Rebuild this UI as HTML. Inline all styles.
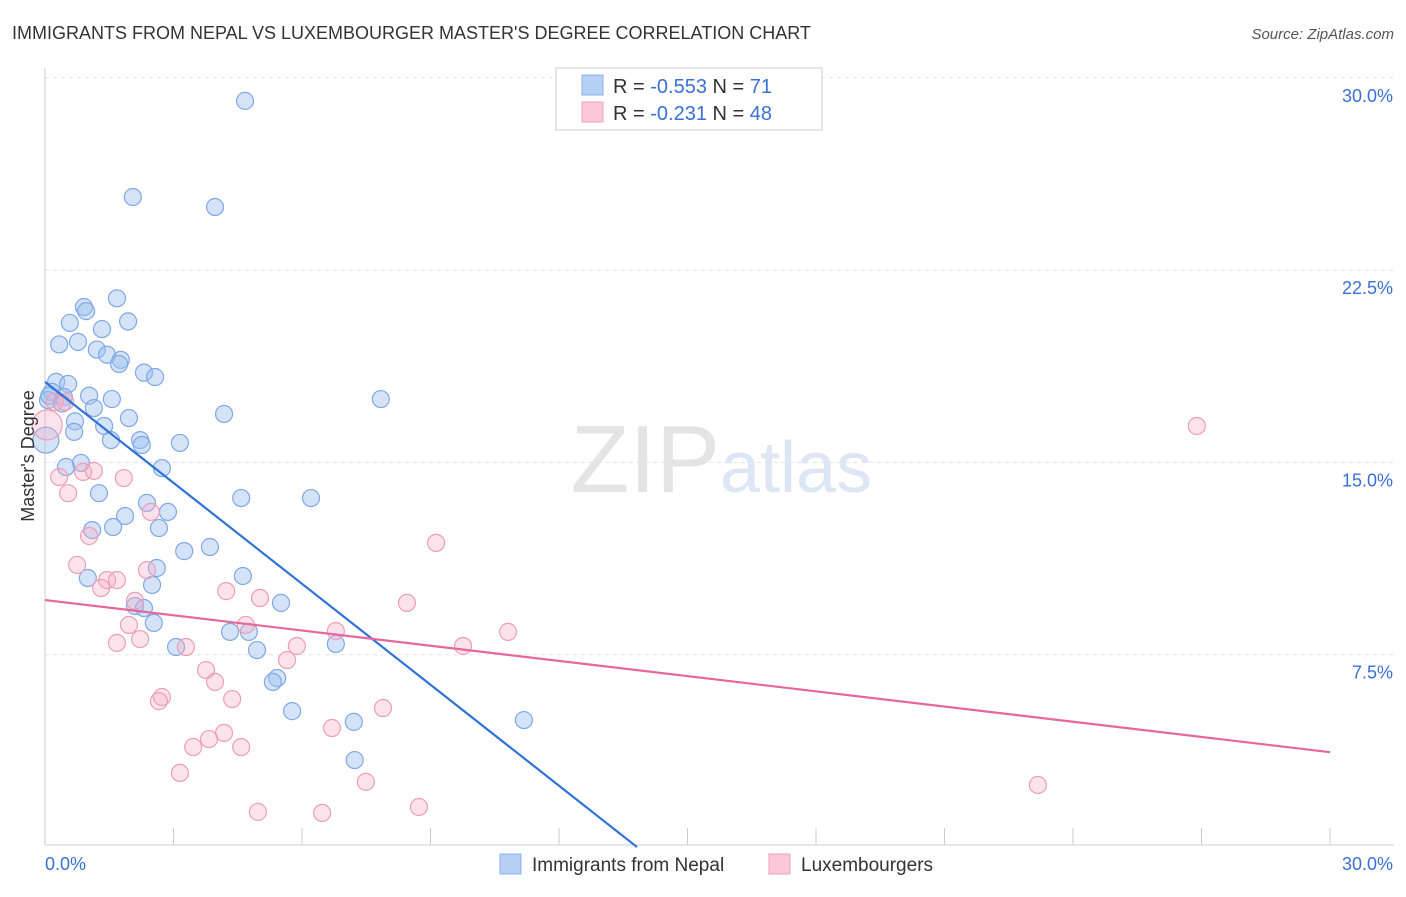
<!DOCTYPE html>
<html><head><meta charset="utf-8"><style>
body{margin:0;background:#fff;font-family:"Liberation Sans",sans-serif;}
svg text{font-family:"Liberation Sans",sans-serif;}
</style></head><body>
<svg id="chart" width="1406" height="892">
<text x="12" y="39" font-size="18" fill="#333">IMMIGRANTS FROM NEPAL VS LUXEMBOURGER MASTER'S DEGREE CORRELATION CHART</text>
<text x="1394" y="39" font-size="15" fill="#555" text-anchor="end" font-style="italic">Source: ZipAtlas.com</text>
<text x="720" y="492" font-size="96" fill="#e4e4e4" text-anchor="end" font-family="Liberation Serif">ZIP</text>
<text x="720" y="492" font-size="72" fill="#dde6f4">atlas</text>
<g id="grid"></g><g id="axes"></g><g id="pts"></g><g id="lines"></g>
<text transform="translate(34,456) rotate(-90)" font-size="18" fill="#333" text-anchor="middle">Master's Degree</text>
<g>
<rect x="556" y="68" width="266" height="62" fill="#fff" stroke="#ccc"/>
<rect x="582" y="75" width="21" height="20" fill="#b8d0f5" stroke="#8ab0e8"/>
<rect x="582" y="102" width="21" height="20" fill="#fcc8d8" stroke="#f0a0bd"/>
<text x="613" y="93" font-size="20" fill="#333">R = <tspan fill="#3a6fd8">-0.553</tspan>   N =  <tspan fill="#3a6fd8">71</tspan></text>
<text x="613" y="120" font-size="20" fill="#333">R =  <tspan fill="#3a6fd8">-0.231</tspan>   N = <tspan fill="#3a6fd8">48</tspan></text>
</g>
<g>
<rect x="500" y="854" width="21" height="20" fill="#b8d0f5" stroke="#8ab0e8"/>
<text x="532" y="871" font-size="19" fill="#333">Immigrants from Nepal</text>
<rect x="769" y="854" width="21" height="20" fill="#fcc8d8" stroke="#f0a0bd"/>
<text x="801" y="871" font-size="19" fill="#333">Luxembourgers</text>
</g>
</svg>
<script>
const yTicks=[7.5,15,22.5,30];
const yTickLabels=["7.5%","15.0%","22.5%","30.0%"];
const xTickLabels=["0.0%","30.0%"];
const blueX=[4.67,2.05,3.97,1.68,0.91,0.96,0.58,1.94,1.33,0.33,0.77,1.21,1.45,1.77,1.73,2.31,2.57,0.26,0.54,0.16,1.03,0.44,1.56,7.84,1.14,1.96,4.18,0.70,1.38,0.68,0.02,2.22,1.54,3.15,2.26,0.84,0.49,2.73,1.26,4.58,6.21,2.38,2.87,1.87,1.10,1.59,2.66,3.85,3.25,2.61,4.62,1.0,2.5,2.1,2.31,5.51,2.54,4.32,4.76,6.79,3.06,4.95,5.42,5.32,5.77,7.21,11.18,7.23,0.07,0.4,0.1];
const blueY=[29.1,25.35,24.96,21.4,21.06,20.9,20.44,20.5,20.2,19.6,19.7,19.4,19.2,19.0,18.84,18.5,18.33,18.14,18.06,17.75,17.6,17.55,17.47,17.47,17.12,16.73,16.89,16.6,16.42,16.19,15.87,15.87,15.87,15.76,15.68,14.98,14.82,14.78,13.8,13.61,13.61,13.42,13.07,12.91,12.36,12.48,12.44,11.7,11.54,10.88,10.57,10.49,10.22,9.4,9.32,9.52,8.74,8.39,8.39,7.92,7.8,7.68,6.59,6.44,5.3,4.88,4.95,3.39,17.43,17.3,17.6];
const pinkX=[26.89,0.05,0.23,0.47,0.33,0.89,1.14,0.54,1.84,2.47,1.03,9.13,0.75,1.45,1.31,1.68,2.38,4.23,5.02,8.45,2.1,1.96,4.69,6.79,10.81,2.22,1.68,3.29,5.88,9.76,5.65,3.76,3.97,2.73,2.66,4.37,7.89,6.70,4.18,3.83,3.46,4.58,3.15,7.49,23.18,8.73,4.97,6.47];
const pinkY=[16.42,16.46,17.36,17.36,14.43,14.63,14.67,13.8,14.39,13.07,12.13,11.86,11.0,10.41,10.1,10.41,10.8,9.98,9.71,9.52,9.6,8.66,8.66,8.42,8.39,8.11,7.96,7.8,7.84,7.84,7.29,6.9,6.44,5.85,5.69,5.77,5.42,4.64,4.45,4.21,3.9,3.9,2.89,2.54,2.42,1.56,1.37,1.33];
const blueLine=[18.14,-1.3125];
const pinkLine=[9.63,-0.1977];
const X=v=>45+v/30*1285, Y=v=>847-v*25.64;
const NS="http://www.w3.org/2000/svg";
function mk(t,a,p){const e=document.createElementNS(NS,t);for(const k in a)e.setAttribute(k,a[k]);p.appendChild(e);return e;}
const grid=document.getElementById('grid'),axes=document.getElementById('axes'),pts=document.getElementById('pts'),lines=document.getElementById('lines');
yTicks.forEach((t,i)=>{const l=mk('line',{x1:45,x2:1394,y1:Y(t),y2:Y(t),stroke:'#e2e2e2','stroke-dasharray':'4,4'},grid);


const tx=mk('text',{x:1393,y:Y(t)+24,'font-size':18,fill:'#3a6fd8','text-anchor':'end'},axes);tx.textContent=yTickLabels[i];

});
const ax=mk('line',{x1:45,x2:45,y1:68,y2:845,stroke:'#ccc'},axes);


const bx=mk('line',{x1:45,x2:1394,y1:845,y2:845,stroke:'#ccc'},axes);


for(let i=0;i<=10;i++){const t=mk('line',{x1:X(i*3),x2:X(i*3),y1:828,y2:845,stroke:'#ccc'},axes);

}
const xl0=mk('text',{x:45,y:870,'font-size':18,fill:'#3a6fd8'},axes);xl0.textContent=xTickLabels[0];


const xl1=mk('text',{x:1393,y:870,'font-size':18,fill:'#3a6fd8','text-anchor':'end'},axes);xl1.textContent=xTickLabels[1];


blueX.forEach((v,i)=>{const c=mk('circle',{cx:X(v),cy:Y(blueY[i]),r:(i==30?13:8.5),fill:'rgba(160,192,240,0.45)',stroke:'#7fa8e6','stroke-width':1.2},pts);

});
pinkX.forEach((v,i)=>{const c=mk('circle',{cx:X(v),cy:Y(pinkY[i]),r:(i==1?15:8.5),fill:'rgba(245,175,198,0.35)',stroke:'#ee9db9','stroke-width':1.2},pts);

});
const bEnd=Math.min(30,-blueLine[0]/blueLine[1]);
const bl=mk('line',{x1:X(0),y1:Y(blueLine[0]),x2:X(bEnd),y2:Y(blueLine[0]+blueLine[1]*bEnd),stroke:'#2f72d8','stroke-width':2.2},lines);


const pl=mk('line',{x1:X(0),y1:Y(pinkLine[0]),x2:X(30),y2:Y(pinkLine[0]+pinkLine[1]*30),stroke:'#e8679a','stroke-width':2.2},lines);


</script>
</body></html>
